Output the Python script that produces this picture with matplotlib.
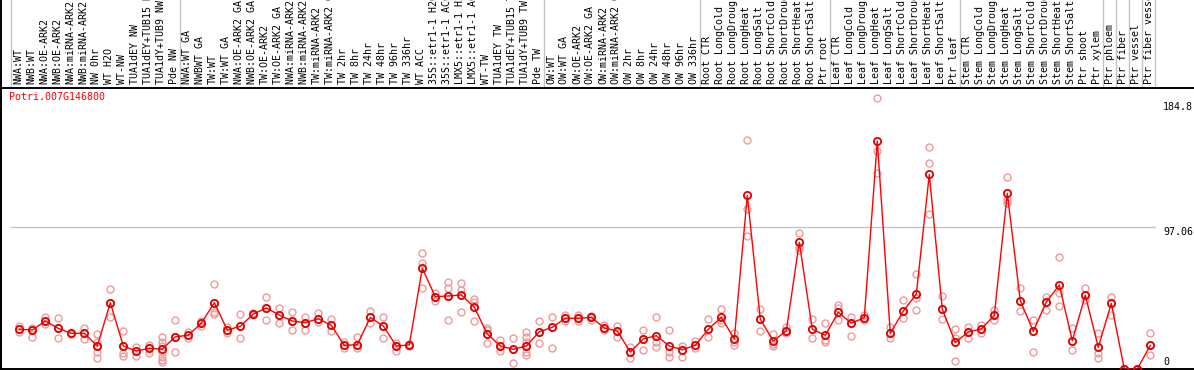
import matplotlib
matplotlib.use("Agg")
import matplotlib.pyplot as plt
from matplotlib.lines import Line2D
import matplotlib.transforms as mtransforms

W, H = 1194, 370

gene_id = "Potri.007G146800"

sample_labels = [
    "NWA:WT", "NWB:WT", "NWA:OE-ARK2", "NWB:OE-ARK2", "NWA:miRNA-ARK2", "NWB:miRNA-ARK2",
    "NW 0hr", "WT H2O", "WT-NW", "TUA1dEY NW", "TUA1dEY+TUB15 NW", "TUA1dY+TUB9 NW", "Pde NW",
    "NWA:WT GA", "NWBWT GA", "TW:WT", "TW:WT GA", "NWA:OE-ARK2 GA", "NWB:OE-ARK2 GA",
    "TW:OE-ARK2", "TW:OE-ARK2 GA", "NWA:miRNA-ARK2 GA", "NWB:miRNA-ARK2 GA", "TW:miRNA-ARK2",
    "TW:miRNA-ARK2 GA", "TW 2hr", "TW 8hr", "TW 24hr", "TW 48hr", "TW 96hr", "TW 336hr",
    "WT ACC", "35S::etr1-1 H2O", "35S::etr1-1 ACC", "LMX5::etr1-1 H2O", "LMX5::etr1-1 ACC",
    "WT-TW", "TUA1dEY TW", "TUA1dEY+TUB15 TW", "TUA1dY+TUB9 TW", "Pde TW",
    "OW:WT", "OW:WT GA", "OW:OE-ARK2", "OW:OE-ARK2 GA", "OW:miRNA-ARK2", "OW:miRNA-ARK2 GA",
    "OW 2hr", "OW 8hr", "OW 24hr", "OW 48hr", "OW 96hr", "OW 336hr",
    "Root CTR", "Root LongCold", "Root LongDrought", "Root LongHeat", "Root LongSalt",
    "Root ShortCold", "Root ShortDrought", "Root ShortHeat", "Root ShortSalt", "Ptr root",
    "Leaf CTR", "Leaf LongCold", "Leaf LongDrought", "Leaf LongHeat", "Leaf LongSalt",
    "Leaf ShortCold", "Leaf ShortDrought", "Leaf ShortHeat", "Leaf ShortSalt", "Ptr leaf",
    "Stem CTR", "Stem LongCold", "Stem LongDrought", "Stem LongHeat", "Stem LongSalt",
    "Stem ShortCold", "Stem ShortDrought", "Stem ShortHeat", "Stem ShortSalt", "Ptr shoot",
    "Ptr xylem", "Ptr phloem", "Ptr fiber", "Ptr vessel", "Ptr fiber vessel",
]

mean_values = [
    27.1, 26.6, 32.7, 27.7, 24.3, 24.3, 15.7, 45.2, 15.7, 12.3, 14.1, 13.6, 22.0,
    23.0, 31.2, 45.2, 26.6, 29.1, 37.5, 41.6, 36.8, 32.7, 31.6, 34.3, 29.8,
    16.1, 16.6, 35.2, 29.3, 15.7, 16.4, 68.7, 49.3, 49.8, 50.5, 42.1,
    23.9, 15.7, 13.4, 15.7, 25.4,
    28.4, 34.6, 34.6, 35.2, 28.0, 25.9, 11.6, 20.5, 22.7, 15.7, 13.2, 16.1,
    27.1, 35.2, 20.5, 118.4, 33.9, 19.1, 26.1, 86.4, 27.1, 23.0,
    38.7, 31.2, 35.0, 155.5, 24.3, 39.5, 51.1, 132.7, 40.7, 18.2,
    25.2, 27.3, 36.6, 119.8, 46.6, 25.7, 45.7, 57.3, 19.3, 50.3,
    14.8, 44.8, 0.0, 0.0, 16.1,
]

replicate_values = [
    [29.3, 27.1, 25.0], [28.0, 26.6, 21.6], [35.7, 32.7, 30.5], [34.6, 27.7, 20.9],
    [24.8, 24.3, 23.8], [28.0, 24.3, 20.7], [23.9, 18.6, 15.7, 11.8, 7.3],
    [54.3, 45.2, 35.3], [25.9, 15.7, 10.7, 8.9], [14.8, 12.3, 8.9], [16.4, 14.1, 10.7],
    [21.6, 18.6, 15.7, 11.8, 8.4, 6.1, 5.0], [33.4, 22.0, 11.6],
    [25.4, 23.0, 20.9], [32.7, 31.2, 29.3], [58.0, 45.2, 39.1, 37.5], [28.4, 26.6, 24.8],
    [37.5, 29.1, 20.9], [38.0, 37.5, 37.0], [48.9, 41.6, 33.4], [41.4, 36.8, 31.2],
    [38.9, 32.7, 26.6], [35.7, 31.6, 26.6], [38.0, 34.3, 32.0], [33.9, 29.8, 26.1],
    [18.6, 16.1, 14.1], [21.6, 16.6, 14.1], [39.8, 35.2, 31.2], [35.2, 29.3, 20.9],
    [17.9, 15.7, 12.5], [17.0, 16.4, 15.8], [78.9, 72.1, 55.0], [51.6, 49.3, 46.4],
    [59.5, 55.0, 49.8, 33.4], [58.9, 53.9, 50.5, 39.1], [47.5, 45.9, 42.1, 32.7],
    [27.7, 26.6, 23.9, 17.9], [19.8, 15.7, 12.5], [20.9, 13.4, 3.9],
    [25.4, 22.0, 18.6, 15.7, 11.8, 9.5], [32.7, 25.4, 17.9],
    [35.2, 28.4, 14.1], [36.8, 34.6, 32.4], [36.8, 34.6, 32.4], [36.1, 35.2, 33.4],
    [30.0, 28.0, 26.6], [29.5, 25.9, 21.6], [15.2, 11.6, 7.7], [26.6, 20.5, 13.0],
    [35.7, 18.2, 14.8], [26.6, 11.8, 8.4], [15.7, 13.2, 8.4], [19.3, 16.1, 14.1],
    [33.9, 27.1, 21.6], [40.7, 33.4, 31.6], [24.3, 18.2, 16.4], [156.2, 108.9, 90.7],
    [40.7, 33.9, 26.1], [23.6, 17.0, 15.7], [28.4, 26.1, 24.3], [92.5, 83.4, 81.1],
    [33.9, 27.1, 20.9], [31.2, 19.8, 18.2],
    [43.6, 41.4, 33.4], [35.7, 31.2, 22.5], [36.8, 35.0, 33.4], [184.8, 148.6, 133.4],
    [28.4, 24.3, 20.9], [47.0, 39.5, 34.6], [64.8, 48.2, 40.2], [151.2, 140.3, 105.5],
    [49.8, 40.7, 33.9], [27.1, 20.9, 5.5],
    [28.4, 25.2, 20.9], [30.0, 27.3, 24.3], [40.2, 36.6, 33.4], [131.1, 115.2, 113.0],
    [55.0, 46.6, 39.8], [33.4, 25.7, 11.4], [48.9, 45.7, 40.2], [76.2, 52.0, 43.0],
    [27.7, 19.3, 13.0], [55.0, 50.3, 47.0], [24.8, 10.7, 7.3], [48.9, 44.8, 36.8],
    [0.0, 0.0, 0.0], [0.0, 0.0, 0.0], [24.3, 16.1, 9.5],
]

group_ends = [13, 41, 53, 63, 73, 84, 85, 86, 87, 88]
axis_ticks = [184.8, 97.06, 0]

# ---------- geometry (pixels) ----------
X0, DX = 19.3, 13.0          # pixel x of first column centre, column step
Y_ZERO, PX_PER_UNIT = 369.0, 1.4665
AX_TOP_PX = 88.0

fig = plt.figure(figsize=(W / 100, H / 100), dpi=100)
ax = fig.add_axes([1 / W, (H - Y_ZERO) / H, (W - 1) / W, (Y_ZERO - AX_TOP_PX) / H])
ax.set_xlim((1 - X0) / DX, (W - X0) / DX)
ax.set_ylim(0, (Y_ZERO - AX_TOP_PX) / PX_PER_UNIT)
ax.set_xticks([])
ax.set_yticks([])
for s in ["left", "top", "bottom"]:
    ax.spines[s].set_color("black")
    ax.spines[s].set_linewidth(1.4)
ax.spines["right"].set_visible(False)

mono = "DejaVu Sans Mono"
fs = 7.2
grid_c = "#c4c4c4"

# vertical separators across the whole figure height
trans_x = mtransforms.blended_transform_factory(ax.transData, fig.transFigure)
bounds = [-0.64] + [e - 0.64 for e in group_ends]
for b in bounds:
    fig.add_artist(Line2D([b, b], [(H - Y_ZERO) / H, 1.0], transform=trans_x,
                          color=grid_c, lw=1.0, zorder=0))
# left border full height
fig.add_artist(Line2D([0.6 / W, 0.6 / W], [(H - Y_ZERO) / H, 1.0], transform=fig.transFigure,
                      color="black", lw=1.4))

# horizontal grid at middle tick
ax.plot([bounds[0], bounds[-1]], [axis_ticks[1], axis_ticks[1]], color=grid_c, lw=1.0, zorder=0)

xs = list(range(len(mean_values)))

# replicates
for i, reps in enumerate(replicate_values):
    ax.plot([i] * len(reps), reps, linestyle="none", marker="o", markersize=5.0,
            markerfacecolor="none", markeredgecolor="#ef9a9a", markeredgewidth=1.0,
            zorder=2, clip_on=True)

# mean line + markers
ax.plot(xs, mean_values, color="#ff0000", lw=1.0, zorder=3)
ax.plot(xs, mean_values, linestyle="none", marker="o", markersize=5.2,
        markerfacecolor="none", markeredgecolor="#e00000", markeredgewidth=1.3, zorder=4)

# sample labels (rotated)
for i, lab in enumerate(sample_labels):
    fig.text(0, 0, lab, transform=mtransforms.blended_transform_factory(ax.transData, fig.transFigure),
             rotation=90, ha="center", va="bottom", fontsize=fs, family=mono, color="black")
    fig.texts[-1].set_position((i - 0.1, 1 - 84.5 / H))

# gene id
fig.text(9 / W, 1 - 97 / H, gene_id, color="#ff0000", fontsize=fs, family=mono,
         ha="left", va="center")

# right-hand value labels
label_y_px = [107, 232, 362]
for v, ypx in zip(axis_ticks, label_y_px):
    txt = "0" if v == 0 else (f"{v:g}")
    fig.text(1163 / W, 1 - ypx / H, txt, fontsize=fs, family=mono, ha="left", va="center",
             color="black")

fig.savefig("out.png", dpi=100)
